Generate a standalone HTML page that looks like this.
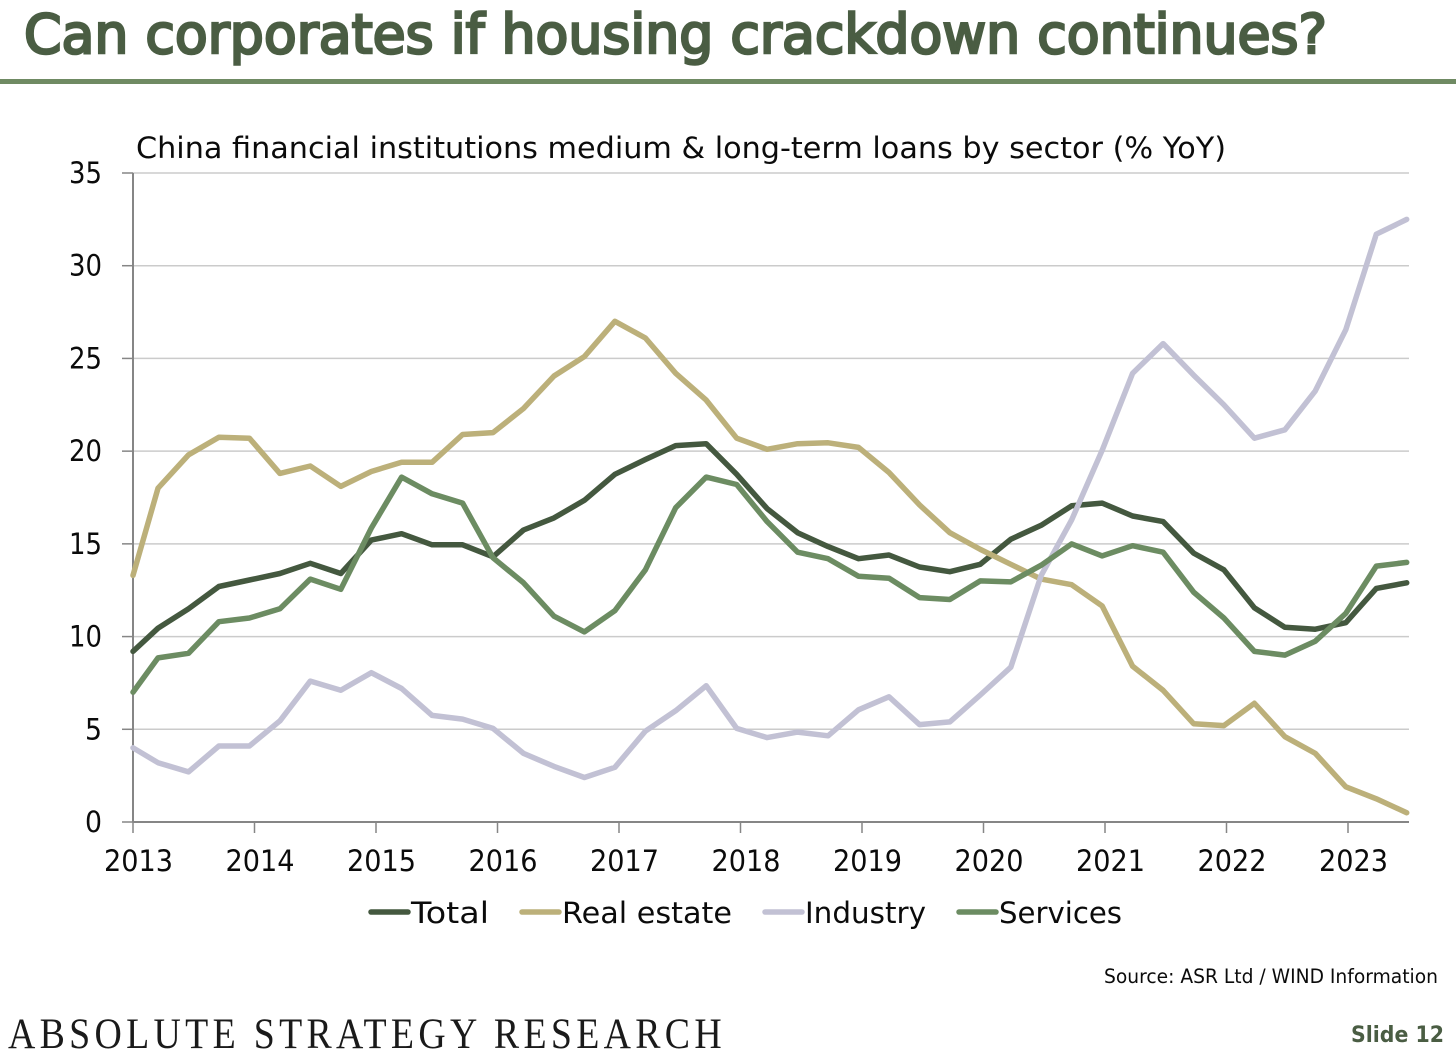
<!DOCTYPE html>
<html>
<head>
<meta charset="utf-8">
<title>Can corporates if housing crackdown continues?</title>
<style>
html,body{margin:0;padding:0;background:#fff;width:1456px;height:1060px;overflow:hidden}
svg{display:block}
text{font-family:"DejaVu Sans","Liberation Sans",sans-serif;fill:#0b0b0b}
</style>
</head>
<body>
<svg id="slide" xmlns="http://www.w3.org/2000/svg" width="1456" height="1060" viewBox="0 0 1456 1060">
  <rect width="1456" height="1060" fill="#ffffff"/>
  <text x="24" y="53" font-size="54" style="fill:#4a5d43;stroke:#4a5d43;stroke-width:2.6px" textLength="1303" lengthAdjust="spacingAndGlyphs">Can corporates if housing crackdown continues?</text>
  <rect x="0" y="79" width="1456" height="5" fill="#6f8a63"/>
  <text x="136" y="158" font-size="29" textLength="1090" lengthAdjust="spacingAndGlyphs">China financial institutions medium &amp; long-term loans by sector (% YoY)</text>
  <g id="grid"></g>
  <g id="axes"></g>
  <g id="series"></g>
  <g id="legend"></g>
  <text x="1104" y="983" font-size="19.5" textLength="334" lengthAdjust="spacingAndGlyphs">Source: ASR Ltd / WIND Information</text>
  <text transform="translate(8,1048) scale(0.88,1)" x="0" y="0" font-size="43" style="font-family:'Liberation Serif',serif;fill:#1a1a1a" textLength="811" lengthAdjust="spacing">ABSOLUTE STRATEGY RESEARCH</text>
  <text x="1351" y="1042" font-size="22" font-weight="700" style="fill:#4a5d43" textLength="93" lengthAdjust="spacingAndGlyphs">Slide 12</text>
</svg>
<script>
var yTicks = [0, 5, 10, 15, 20, 25, 30, 35];
var xTicks = [2013, 2014, 2015, 2016, 2017, 2018, 2019, 2020, 2021, 2022, 2023];
var dates = [2013, 2013.206, 2013.457, 2013.707, 2013.958, 2014.209, 2014.459, 2014.71, 2014.961, 2015.211, 2015.462, 2015.713, 2015.963, 2016.214, 2016.465, 2016.715, 2016.966, 2017.217, 2017.467, 2017.718, 2017.969, 2018.219, 2018.47, 2018.721, 2018.971, 2019.222, 2019.473, 2019.723, 2019.974, 2020.225, 2020.475, 2020.726, 2020.977, 2021.227, 2021.478, 2021.729, 2021.979, 2022.23, 2022.481, 2022.731, 2022.982, 2023.233, 2023.483];
var totalValues = [9.2, 10.45, 11.5, 12.7, 13.05, 13.4, 13.95, 13.4, 15.2, 15.55, 14.95, 14.95, 14.3, 15.75, 16.4, 17.35, 18.75, 19.55, 20.3, 20.4, 18.75, 16.9, 15.6, 14.85, 14.2, 14.4, 13.75, 13.5, 13.9, 15.25, 16.0, 17.05, 17.2, 16.5, 16.2, 14.5, 13.6, 11.55, 10.5, 10.4, 10.75, 12.6, 12.9];
var realEstateValues = [13.3, 18.0, 19.8, 20.75, 20.7, 18.8, 19.2, 18.1, 18.9, 19.4, 19.4, 20.9, 21.0, 22.3, 24.05, 25.1, 27.0, 26.1, 24.2, 22.75, 20.7, 20.1, 20.4, 20.45, 20.2, 18.85, 17.1, 15.6, 14.7, 13.9, 13.1, 12.8, 11.65, 8.4, 7.1, 5.3, 5.2, 6.4, 4.6, 3.7, 1.9, 1.25, 0.5];
var industryValues = [4.0, 3.2, 2.7, 4.1, 4.1, 5.45, 7.6, 7.1, 8.05, 7.2, 5.75, 5.55, 5.05, 3.7, 3.0, 2.4, 2.95, 4.9, 6.0, 7.35, 5.05, 4.55, 4.85, 4.65, 6.05, 6.75, 5.25, 5.4, 6.85, 8.35, 13.3, 16.3, 20.05, 24.2, 25.8, 24.1, 22.5, 20.7, 21.15, 23.25, 26.55, 31.7, 32.5];
var servicesValues = [7.0, 8.85, 9.1, 10.8, 11.0, 11.5, 13.1, 12.55, 15.85, 18.6, 17.7, 17.2, 14.25, 12.9, 11.1, 10.25, 11.4, 13.6, 16.95, 18.6, 18.2, 16.2, 14.55, 14.2, 13.25, 13.15, 12.1, 12.0, 13.0, 12.95, 13.85, 15.0, 14.35, 14.9, 14.55, 12.4, 11.0, 9.2, 9.0, 9.75, 11.25, 13.8, 14.0];
var seriesNames = ["Total", "Real estate", "Industry", "Services"];

var NS = "http://www.w3.org/2000/svg";
var colors = {"Total": "#44583f", "Real estate": "#bcb07a", "Industry": "#c2c1d4", "Services": "#6c8c62"};
var left = 133, right = 1409, top0 = 173, bottom = 822;
function xScale(t) { return left + (t - 2013) * 121.5; }
function yScale(v) { return bottom - v * (bottom - top0) / 35; }
function slug(s) { return s.toLowerCase().replace(/\s+/g, "-"); }
function make(tag, attrs, parent, txt) {
  var el = document.createElementNS(NS, tag);
  for (var k in attrs) el.setAttribute(k, attrs[k]);
  if (txt !== undefined) el.textContent = txt;
  parent.appendChild(el);
  return el;
}
var grid = document.getElementById("grid");
var axes = document.getElementById("axes");
var seriesG = document.getElementById("series");
var legend = document.getElementById("legend");

yTicks.forEach(function (v) {
  var y = yScale(v);
  if (v > 0) {
    var g = make("line", {x1: left, x2: right, y1: y, y2: y, stroke: "#cbcbcb", "stroke-width": 1.5}, grid);
    
    
  }
  var t = make("line", {x1: 122, x2: left, y1: y, y2: y, stroke: "#868686", "stroke-width": 1.5}, axes);
  
  
  var lab = make("text", {x: 102, y: y + 10, "font-size": 29, "text-anchor": "end", textLength: v < 10 ? 17 : 33, lengthAdjust: "spacingAndGlyphs"}, axes, String(v));
  
  
});

var yAxis = make("line", {x1: left, x2: left, y1: top0, y2: bottom, stroke: "#868686", "stroke-width": 2}, axes);


var xAxis = make("line", {x1: left, x2: right, y1: bottom, y2: bottom, stroke: "#868686", "stroke-width": 2}, axes);



xTicks.forEach(function (yr) {
  var x = xScale(yr);
  var t = make("line", {x1: x, x2: x, y1: bottom, y2: 833, stroke: "#868686", "stroke-width": 1.5}, axes);
  
  
  var lab = make("text", {x: x - 29, y: 871, "font-size": 29, textLength: 69, lengthAdjust: "spacingAndGlyphs"}, axes, String(yr));
  
  
});

function drawSeries(name, values) {
  var d = values.map(function (v, i) {
    return (i ? "L" : "M") + xScale(dates[i]).toFixed(1) + " " + yScale(v).toFixed(1);
  }).join(" ");
  var p = make("path", {d: d, fill: "none", stroke: colors[name], "stroke-width": 5.5, "stroke-linejoin": "round", "stroke-linecap": "round"}, seriesG);
  
  
}
drawSeries("Total", totalValues);
drawSeries("Real estate", realEstateValues);
drawSeries("Industry", industryValues);
drawSeries("Services", servicesValues);

var legendX = [369, 520, 763, 957];
var legendW = [78, 170, 121, 123];
seriesNames.forEach(function (name, i) {
  var sw = make("line", {x1: legendX[i] + 2, x2: legendX[i] + 39, y1: 912, y2: 912, stroke: colors[name], "stroke-width": 5.5, "stroke-linecap": "round"}, legend);
  
  
  var lab = make("text", {x: legendX[i] + 42, y: 923, "font-size": 29, textLength: legendW[i], lengthAdjust: "spacingAndGlyphs"}, legend, name);
  
  
});
</script>
</body>
</html>
